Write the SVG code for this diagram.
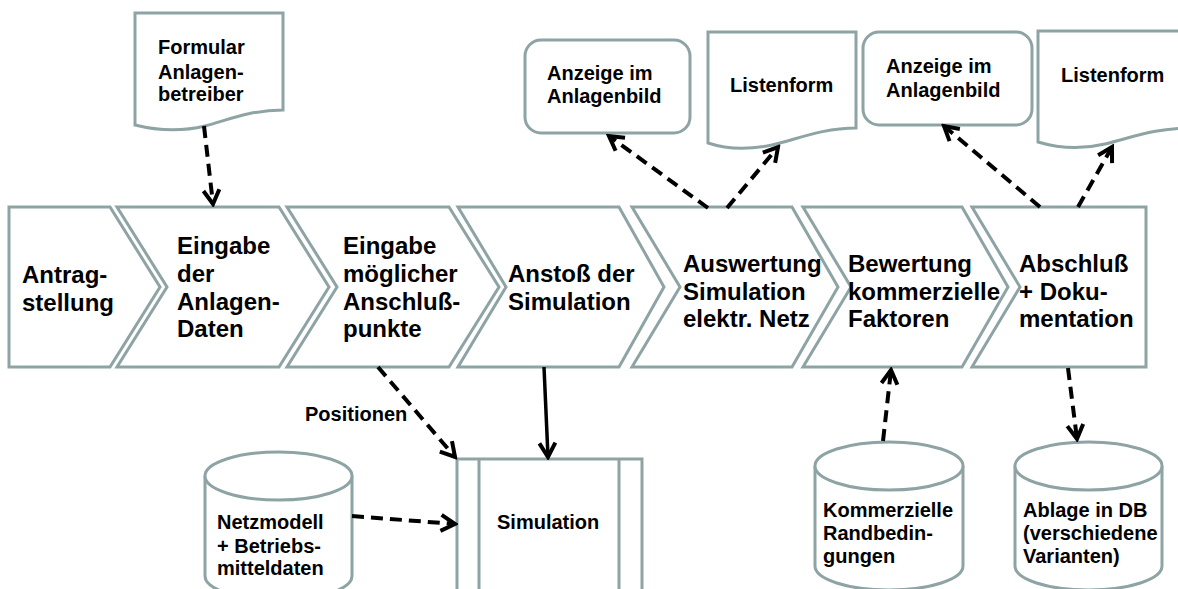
<svg xmlns="http://www.w3.org/2000/svg" width="1178" height="589" viewBox="0 0 1178 589">
<style>
.s{fill:#fff;stroke:#8ea3a4;stroke-width:3;stroke-linejoin:miter}
.t{font-family:"Liberation Sans",Arial,sans-serif;font-weight:bold;font-size:24px;fill:#000}
.u{font-family:"Liberation Sans",Arial,sans-serif;font-weight:bold;font-size:20px;fill:#000}
.d{fill:none;stroke:#000;stroke-width:4;stroke-dasharray:12 7}
.l{fill:none;stroke:#000;stroke-width:3.5}
</style>
<defs>
<marker id="ah" markerUnits="userSpaceOnUse" markerWidth="22" markerHeight="22" viewBox="0 0 22 22" refX="19" refY="11" orient="auto">
<path d="M5,3 L19,11 L5,19" fill="none" stroke="#000" stroke-width="4"/>
</marker>
</defs>
<rect width="1178" height="589" fill="#fff"/>
<g id="n1"><polygon class="s" points="9,207 110,207 160,287 110,367 9,367"/>
<text class="t" x="22" y="283">Antrag-</text><text class="t" x="22" y="311">stellung</text></g>
<g id="n2"><polygon class="s" points="117,207 279,207 329,287 279,367 117,367 167,287"/>
<text class="t" x="177" y="254">Eingabe</text><text class="t" x="177" y="282">der</text><text class="t" x="177" y="310">Anlagen-</text><text class="t" x="177" y="337">Daten</text></g>
<g id="n3"><polygon class="s" points="287,207 449,207 499,287 449,367 287,367 337,287"/>
<text class="t" x="343" y="254">Eingabe</text><text class="t" x="343" y="282">möglicher</text><text class="t" x="343" y="310">Anschluß-</text><text class="t" x="343" y="337">punkte</text></g>
<g id="n4"><polygon class="s" points="458,207 619,207 664,287 619,367 458,367 506,287"/>
<text class="t" x="508" y="282">Anstoß der</text><text class="t" x="508" y="310">Simulation</text></g>
<g id="n5"><polygon class="s" points="632,207 792,207 838,287 792,367 632,367 680,287"/>
<text class="t" x="683" y="272">Auswertung</text><text class="t" x="683" y="300">Simulation</text><text class="t" x="683" y="327">elektr. Netz</text></g>
<g id="n6"><polygon class="s" points="803,207 962,207 1008,287 962,367 803,367 851,287"/>
<text class="t" x="848" y="272">Bewertung</text><text class="t" x="848" y="300">kommerzielle</text><text class="t" x="848" y="327">Faktoren</text></g>
<g id="n7"><polygon class="s" points="972,207 1146,207 1146,367 972,367 1020,287"/>
<text class="t" x="1019" y="272">Abschluß</text><text class="t" x="1019" y="300">+ Doku-</text><text class="t" x="1019" y="327">mentation</text></g>
<g id="formular"><path class="s" d="M135,13 H283 V110 C250,110 228,120 205,126 C180,132 155,130 135,125 Z"/>
<text class="u" x="158" y="54">Formular</text><text class="u" x="158" y="79">Anlagen-</text><text class="u" x="158" y="101">betreiber</text></g>
<g id="anzeige1"><rect class="s" x="525" y="40" width="165" height="93" rx="16"/>
<text class="u" x="547" y="80">Anzeige im</text><text class="u" x="547" y="103">Anlagenbild</text></g>
<g id="liste1"><path class="s" d="M708,32 H856 V128 C822,128 795,140 772,145 C748,150 726,149 708,143 Z"/>
<text class="u" x="730" y="92">Listenform</text></g>
<g id="anzeige2"><rect class="s" x="863" y="32" width="169" height="93" rx="16"/>
<text class="u" x="886" y="73">Anzeige im</text><text class="u" x="886" y="97">Anlagenbild</text></g>
<g id="liste2"><path class="s" d="M1038,31 H1190 V128 C1155,128 1130,138 1105,144 C1080,150 1058,148 1038,142 Z"/>
<text class="u" x="1061" y="82">Listenform</text></g>
<g id="simulation"><path class="s" d="M457,600 V459 H642 V600"/><path class="s" d="M479,459 V600 M619,459 V600"/>
<text class="u" x="497" y="529">Simulation</text></g>
<g id="netzmodell"><path class="s" d="M205,476 V576 A73.5,24 0 0 0 352,576 V476"/><ellipse class="s" cx="278.5" cy="476" rx="73.5" ry="24"/>
<text class="u" x="217" y="529">Netzmodell</text><text class="u" x="217" y="553">+ Betriebs-</text><text class="u" x="217" y="575">mitteldaten</text></g>
<g id="kommerziell"><path class="s" d="M815,466 V566 A74,24 0 0 0 963,566 V466"/><ellipse class="s" cx="889" cy="466" rx="74" ry="24"/>
<text class="u" x="823" y="517">Kommerzielle</text><text class="u" x="823" y="540">Randbedin-</text><text class="u" x="823" y="563">gungen</text></g>
<g id="ablage"><path class="s" d="M1015,466 V566 A73.5,24 0 0 0 1162,566 V466"/><ellipse class="s" cx="1088.5" cy="466" rx="73.5" ry="24"/>
<text class="u" x="1023" y="517">Ablage in DB</text><text class="u" x="1023" y="540">(verschiedene</text><text class="u" x="1023" y="563">Varianten)</text></g>
<g id="connectors">
<path class="d" d="M204,126 L213,204" marker-end="url(#ah)"/>
<path class="d" d="M708,208 L609,136" marker-end="url(#ah)"/>
<path class="d" d="M727,208 L778,147" marker-end="url(#ah)"/>
<path class="d" d="M1040,207 L944,126" marker-end="url(#ah)"/>
<path class="d" d="M1078,207 L1112,147" marker-end="url(#ah)"/>
<path class="d" d="M378,367 L455,457" marker-end="url(#ah)"/>
<path class="l" d="M544,367 L548,457" marker-end="url(#ah)"/>
<path class="d" d="M352,516 L455,524" marker-end="url(#ah)"/>
<path class="d" d="M883,441 L891,370" marker-end="url(#ah)"/>
<path class="d" d="M1068,368 L1077,439" marker-end="url(#ah)"/>
<text class="u" x="305" y="421">Positionen</text>
</g>
</svg>
